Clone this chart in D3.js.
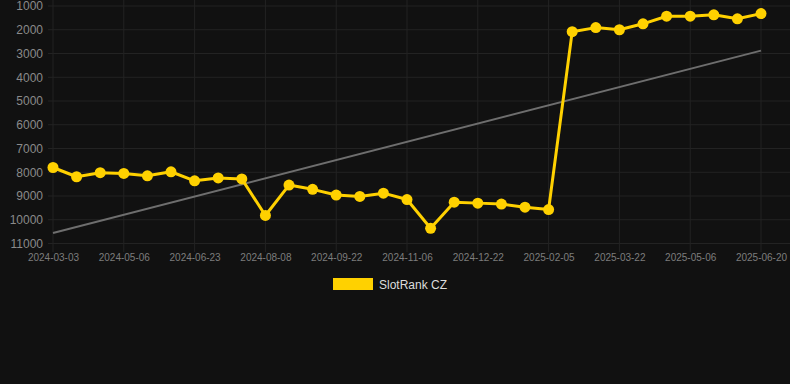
<!DOCTYPE html>
<html>
<head>
<meta charset="utf-8">
<script src="https://cdn.jsdelivr.net/npm/d3@7"></script>
<style>
  html, body { margin: 0; padding: 0; background: #111111; }
  svg { display: block; }
</style>
</head>
<body>
<svg id="chart" width="790" height="384"></svg>
<script>
// categories (every third one is labelled on the axis)
const dates = [
    "2024-03-03", "2024-03-24", "2024-04-15", "2024-05-06", "2024-05-22", "2024-06-07",
    "2024-06-23", "2024-07-08", "2024-07-23", "2024-08-08", "2024-08-23", "2024-09-07",
    "2024-09-22", "2024-10-07", "2024-10-22", "2024-11-06", "2024-11-21", "2024-12-06",
    "2024-12-22", "2025-01-06", "2025-01-21", "2025-02-05", "2025-02-20", "2025-03-07",
    "2025-03-22", "2025-04-06", "2025-04-21", "2025-05-06", "2025-05-21", "2025-06-05",
    "2025-06-20"
];
const ranks = [
    7800, 8190, 8020, 8050, 8150, 7980,
    8360, 8240, 8280, 9820, 8540, 8720,
    8960, 9020, 8880, 9150, 10360, 9260,
    9300, 9340, 9470, 9570, 2080, 1910,
    2000, 1750, 1430, 1430, 1370, 1540,
    1320
];
const yTicks = [1000, 2000, 3000, 4000, 5000, 6000, 7000, 8000, 9000, 10000, 11000];
const seriesName = "SlotRank CZ";

const svg = d3.select("#chart");
const width = 790;

const x = d3.scalePoint()
    .domain(dates)
    .range([53, 761]);

const y = d3.scaleLinear()
    .domain([1000, 11000])
    .range([6, 243.5]);

const gridColor = "#232323";
const yellow = "#ffd100";

// horizontal grid
svg.append("g")
    .selectAll("line")
    .data(yTicks)
    .join("line")
    .attr("x1", 48)
    .attr("x2", width)
    .attr("y1", d => y(d))
    .attr("y2", d => y(d))
    .attr("stroke", gridColor)
    .attr("stroke-width", 1);

const labelled = dates.filter((d, i) => i % 3 === 0);

// vertical grid
svg.append("g")
    .selectAll("line")
    .data(labelled)
    .join("line")
    .attr("x1", d => x(d))
    .attr("x2", d => x(d))
    .attr("y1", 0)
    .attr("y2", 252)
    .attr("stroke", gridColor)
    .attr("stroke-width", 1);

// y axis
const yAxis = svg.append("g")
    .attr("transform", "translate(48,0)")
    .call(d3.axisLeft(y).tickValues(yTicks).tickSize(0).tickPadding(5).tickFormat(d3.format("d")));
yAxis.select(".domain").remove();
yAxis.selectAll("text")
    .attr("fill", "#8a8a8a")
    .style("font", "12px 'Liberation Sans', Arial, sans-serif");

// x axis
const xAxis = svg.append("g")
    .attr("transform", "translate(0,252)")
    .call(d3.axisBottom(x).tickValues(labelled).tickSize(0).tickPadding(2));
xAxis.select(".domain").remove();
xAxis.selectAll("text")
    .attr("fill", "#7d7d7d")
    .style("font", "10px 'Liberation Sans', Arial, sans-serif");

// trend line (least squares over the category index)
const n = ranks.length;
const idx = d3.range(n);
const mx = d3.mean(idx), my = d3.mean(ranks);
const slope = d3.sum(idx, i => (i - mx) * (ranks[i] - my)) / d3.sum(idx, i => (i - mx) ** 2);
const icpt = my - slope * mx;
svg.append("line")
    .attr("x1", x(dates[0]))
    .attr("y1", y(icpt))
    .attr("x2", x(dates[n - 1]))
    .attr("y2", y(icpt + slope * (n - 1)))
    .attr("stroke", "#6e6e6e")
    .attr("stroke-width", 2);

// main line
const line = d3.line()
    .x((d, i) => x(dates[i]))
    .y(d => y(d));

svg.append("path")
    .datum(ranks)
    .attr("d", line)
    .attr("fill", "none")
    .attr("stroke", yellow)
    .attr("stroke-width", 3)
    .attr("stroke-linejoin", "round");

svg.append("g")
    .selectAll("circle")
    .data(ranks)
    .join("circle")
    .attr("cx", (d, i) => x(dates[i]))
    .attr("cy", d => y(d))
    .attr("r", 5.5)
    .attr("fill", yellow);

// legend
const legend = svg.append("g").attr("transform", "translate(333,278)");
legend.append("rect")
    .attr("width", 40)
    .attr("height", 12)
    .attr("fill", yellow);
legend.append("text")
    .attr("x", 46)
    .attr("y", 10.5)
    .attr("fill", "#dddddd")
    .style("font", "12px 'Liberation Sans', Arial, sans-serif")
    .text(seriesName);
</script>
</body>
</html>
